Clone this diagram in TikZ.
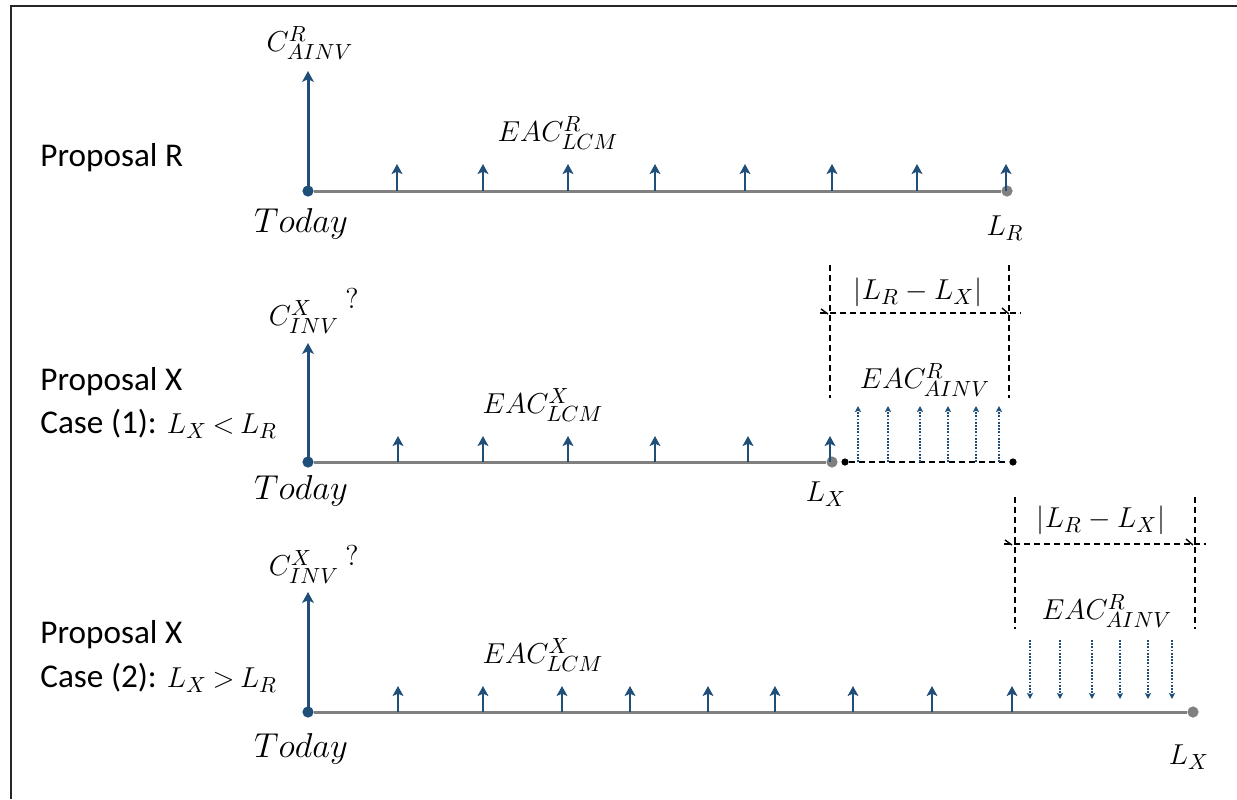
\documentclass[tikz,border=0pt]{standalone}
\usepackage{fontspec}
\setmainfont{Carlito}
\usetikzlibrary{arrows.meta}
\definecolor{flowblue}{HTML}{1F4E79}
\definecolor{axisgray}{HTML}{808080}
\newcommand{\casemath}[1]{{\fontsize{15.8}{18}\selectfont$#1$}}
\tikzset{
  frameline/.style={draw=black!85, line width=1pt},
  axisline/.style={draw=axisgray, line width=1.5pt},
  invest/.style={draw=flowblue, line width=1.5pt, -{Stealth[length=5.4pt,width=5.8pt,inset=1.3pt]}},
  annual/.style={draw=flowblue, line width=1.2pt, -{Stealth[length=5pt,width=5.4pt,inset=1.2pt]}},
  extra/.style={draw=flowblue, line width=0.8pt, dash pattern=on 0.9pt off 0.7pt, -{Stealth[length=3pt,width=3pt,inset=0.6pt]}},
  dimline/.style={draw=black, line width=0.9pt, dash pattern=on 3pt off 2pt},
  tickline/.style={draw=black, line width=0.7pt},
  txt/.style={font=\fontsize{16.6}{19}\selectfont, inner sep=0pt, align=left},
  mlbl/.style={font=\fontsize{15.5}{18}\selectfont, inner sep=0pt},
  daylbl/.style={font=\fontsize{16.5}{18}\selectfont, inner sep=0pt},
  startdot/.style={circle, fill=flowblue, inner sep=0pt, minimum size=5.6pt},
  enddot/.style={circle, fill=axisgray, inner sep=0pt, minimum size=5.6pt},
  blackdot/.style={circle, fill=black, inner sep=0pt, minimum size=3.6pt},
}
\begin{document}
\begin{tikzpicture}[x=0.5pt,y=-0.5pt]
\useasboundingbox (0,0) rectangle (1237,799);
% outer frame (left and top edges)
\coordinate (fa) at (11,799);
\coordinate (fb) at (11,6);
\coordinate (fc) at (1237,6);
\draw[frameline] (fa) -- (fb) -- (fc);

% ---------------- Proposal R ----------------
\node[txt, anchor=west] (pR) at (40,158) {Proposal R};
\node[startdot] (s1) at (308,191) {};
\node[enddot] (e1) at (1007,191) {};
\draw[axisline] (s1) -- (e1);
\coordinate (c1) at (308,71);
\draw[invest] (s1.center) -- (c1);
\foreach \x [count=\i] in {397,483,568,655,745,832,917,1006} {
  \coordinate (r1b\i) at (\x,191);
  \coordinate (r1t\i) at (\x,164);
  \draw[annual] (r1b\i) -- (r1t\i);
}
\node[mlbl] (cR) at (310,43) {$C^{R}_{AINV}$};
\node[mlbl] (eac1) at (558,133) {$EAC^{R}_{LCM}$};
\node[daylbl] (today1) at (301,224) {$Today$};
\node[mlbl] (lR) at (1005,228) {$L_R$};

% ---------------- Proposal X, case (1) ----------------
\node[txt, anchor=west] (pX1) at (40,382) {Proposal X};
\node[txt, anchor=west] (case1) at (40,424) {Case (1): \casemath{L_X\mkern-1.5mu < \mkern-1.5mu L_R}};
\node[startdot] (s2) at (308,462) {};
\node[enddot] (e2) at (832,462) {};
\draw[axisline] (s2) -- (e2);
\coordinate (c2) at (308,343);
\draw[invest] (s2.center) -- (c2);
\foreach \x [count=\i] in {398,483,568,655,748,830} {
  \coordinate (r2b\i) at (\x,462);
  \coordinate (r2t\i) at (\x,436);
  \draw[annual] (r2b\i) -- (r2t\i);
}
\node[mlbl] (cX1) at (304,317) {$C^{X}_{INV}$};
\node[mlbl] (q1) at (352,298) {$?$};
\node[mlbl] (eac2) at (543,405) {$EAC^{X}_{LCM}$};
\node[daylbl] (today2) at (301,491) {$Today$};
\node[mlbl] (lX1) at (826,494) {$L_X$};

% extension of X to the life of R
\node[blackdot] (d1) at (845,462) {};
\node[blackdot] (d2) at (1013,462) {};
\draw[dimline] (d1) -- (d2);
\foreach \x [count=\i] in {858,888,920,948,976,999} {
  \coordinate (x1b\i) at (\x,462);
  \coordinate (x1t\i) at (\x,406);
  \draw[extra] (x1b\i) -- (x1t\i);
}
\coordinate (v1a) at (830,265);
\coordinate (v1b) at (830,398);
\coordinate (v2a) at (1009,265);
\coordinate (v2b) at (1009,398);
\draw[dimline] (v1a) -- (v1b);
\draw[dimline] (v2a) -- (v2b);
\coordinate (h1a) at (820,313);
\coordinate (h1b) at (1021,313);
\draw[dimline] (h1a) -- (h1b);
\draw[tickline] (821,309) -- (828,314);
\draw[tickline] (1002,308) -- (1009,314);
\node[mlbl] (diff1) at (918,292) {$|L_R - L_X|$};
\node[mlbl] (eac3) at (925,380) {$EAC^{R}_{AINV}$};

% ---------------- Proposal X, case (2) ----------------
\node[txt, anchor=west] (pX2) at (40,635) {Proposal X};
\node[txt, anchor=west] (case2) at (40,678) {Case (2): \casemath{L_X\mkern-1.5mu > \mkern-1.5mu L_R}};
\node[startdot] (s3) at (308,712) {};
\node[enddot] (e3) at (1193,712) {};
\draw[axisline] (s3) -- (e3);
\coordinate (c3) at (308,592);
\draw[invest] (s3.center) -- (c3);
\foreach \x [count=\i] in {398,483,562,630,708,775,853,932,1012} {
  \coordinate (r3b\i) at (\x,712);
  \coordinate (r3t\i) at (\x,686);
  \draw[annual] (r3b\i) -- (r3t\i);
}
\node[mlbl] (cX2) at (304,567) {$C^{X}_{INV}$};
\node[mlbl] (q2) at (352,555) {$?$};
\node[mlbl] (eac4) at (543,655) {$EAC^{X}_{LCM}$};
\node[daylbl] (today3) at (301,749) {$Today$};
\node[mlbl] (lX2) at (1189,757) {$L_X$};

% the part of X beyond the life of R
\foreach \x [count=\i] in {1030,1060,1092,1120,1148,1172} {
  \coordinate (x2t\i) at (\x,640);
  \coordinate (x2b\i) at (\x,699);
  \draw[extra] (x2t\i) -- (x2b\i);
}
\coordinate (v3a) at (1015,497);
\coordinate (v3b) at (1015,629);
\coordinate (v4a) at (1195,497);
\coordinate (v4b) at (1195,629);
\draw[dimline] (v3a) -- (v3b);
\draw[dimline] (v4a) -- (v4b);
\coordinate (h2a) at (1004,544);
\coordinate (h2b) at (1206,544);
\draw[dimline] (h2a) -- (h2b);
\draw[tickline] (1005,540) -- (1012,545);
\draw[tickline] (1186,539) -- (1193,545);
\node[mlbl] (diff2) at (1101,520) {$|L_R - L_X|$};
\node[mlbl] (eac5) at (1107,611) {$EAC^{R}_{AINV}$};
\end{tikzpicture}
\end{document}
